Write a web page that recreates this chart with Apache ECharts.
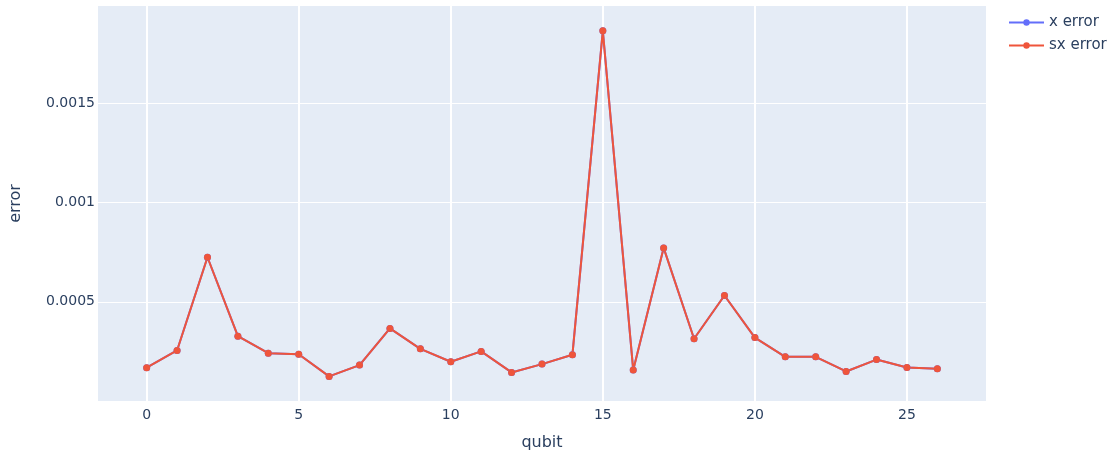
<!DOCTYPE html>
<html>
<head>
<meta charset="utf-8">
<script src="https://cdn.jsdelivr.net/npm/echarts@6/dist/echarts.min.js"></script>
<style>
  html, body { margin: 0; padding: 0; background: #fff; }
  #chart { width: 1112px; height: 459px; }
</style>
</head>
<body>
<div id="chart"></div>
<script>
const qubits = [0, 1, 2, 3, 4, 5, 6, 7, 8, 9, 10, 11, 12, 13, 14, 15, 16, 17, 18, 19, 20, 21, 22, 23, 24, 25, 26];
const xError = [0.000168, 0.000255, 0.000725, 0.000327, 0.000241, 0.000236, 0.000124, 0.000181, 0.000366,
  0.000263, 0.000198, 0.000250, 0.000144, 0.000186, 0.000233, 0.001867, 0.000156, 0.000772, 0.000314,
  0.000532, 0.000320, 0.000223, 0.000223, 0.000149, 0.000209, 0.000169, 0.000163];
const sxError = [0.000168, 0.000255, 0.000725, 0.000327, 0.000241, 0.000236, 0.000124, 0.000181, 0.000366,
  0.000263, 0.000198, 0.000250, 0.000144, 0.000186, 0.000233, 0.001867, 0.000156, 0.000772, 0.000314,
  0.000532, 0.000320, 0.000223, 0.000223, 0.000149, 0.000209, 0.000169, 0.000163];
const xTicks = [0, 5, 10, 15, 20, 25];
const yTicks = [0.0005, 0.001, 0.0015];

const chart = echarts.init(document.getElementById('chart'));
const font = '"DejaVu Sans", Verdana, sans-serif';
const textColor = '#2a3f5f';

const makeSeries = (name, values, color) => ({
  name: name,
  type: 'line',
  data: qubits.map((q, i) => [q, values[i]]),
  symbol: 'circle',
  symbolSize: 7,
  showSymbol: true,
  lineStyle: { width: 2, color: color },
  itemStyle: { color: color },
  emphasis: { disabled: true },
  animation: false
});

chart.setOption({
  backgroundColor: '#fff',
  textStyle: { fontFamily: font },
  legend: {
    orient: 'vertical',
    left: 1003,
    top: 10,
    itemWidth: 35,
    itemHeight: 8,
    itemGap: 8,
    textStyle: { color: textColor, fontSize: 15, fontFamily: font },
    data: ['x error', 'sx error']
  },
  grid: {
    left: 98,
    right: 126,
    top: 6,
    bottom: 58,
    outerBoundsMode: 'none',
    containLabel: false,
    show: true,
    backgroundColor: '#E5ECF6',
    borderWidth: 0
  },
  xAxis: {
    type: 'value',
    min: -1.6,
    max: 27.6,
    name: 'qubit',
    nameLocation: 'middle',
    nameGap: 34,
    nameTextStyle: { color: textColor, fontSize: 16, fontFamily: font },
    axisLine: { show: false },
    axisTick: { show: false, customValues: xTicks },
    axisLabel: { customValues: xTicks, color: textColor, fontSize: 14, margin: 7, fontFamily: font },
    splitLine: { show: true, lineStyle: { color: '#ffffff', width: 2 } }
  },
  yAxis: {
    type: 'value',
    min: 0,
    max: 0.001992,
    name: 'error',
    nameLocation: 'middle',
    nameGap: 74,
    nameTextStyle: { color: textColor, fontSize: 16, fontFamily: font },
    axisLine: { show: false },
    axisTick: { show: false, customValues: yTicks },
    axisLabel: {
      customValues: yTicks,
      color: textColor,
      fontSize: 14,
      margin: 3,
      fontFamily: font,
      formatter: v => String(v)
    },
    splitLine: { show: true, lineStyle: { color: '#ffffff', width: 1 } }
  },
  series: [
    makeSeries('x error', xError, '#636efa'),
    makeSeries('sx error', sxError, '#EF553B')
  ]
});
</script>
</body>
</html>
